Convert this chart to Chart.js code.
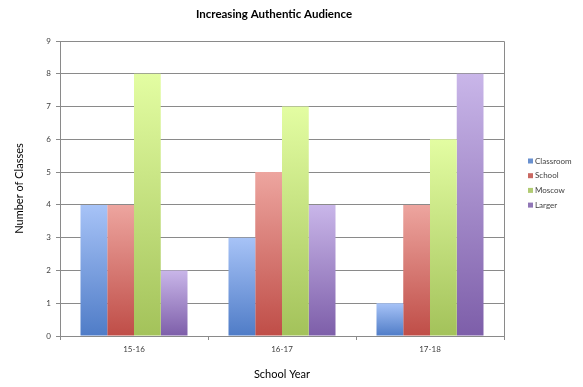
<!DOCTYPE html>
<html>
<head>
<meta charset="utf-8">
<script src="https://cdn.jsdelivr.net/npm/chart.js@4.4.1/dist/chart.umd.min.js"></script>
<style>
  html, body { margin: 0; padding: 0; background: #fff; }
  #wrap { width: 583px; height: 387px; position: relative; }
</style>
</head>
<body>
<div id="wrap"><canvas id="myChart"></canvas></div>
<script>
var chartTitle = 'Increasing Authentic Audience';
var years = ['15-16', '16-17', '17-18'];
var seriesNames = ['Classroom', 'School', 'Moscow', 'Larger'];
var classroom = [4, 3, 1];
var school = [4, 5, 4];
var moscow = [8, 7, 6];
var larger = [2, 4, 8];
var yTicks = [0, 1, 2, 3, 4, 5, 6, 7, 8, 9];

// light (top) / dark (bottom) shade for each series
var shades = [
  ['#a7c3f7', '#4f7cc7'],
  ['#eda59f', '#bf4d47'],
  ['#e3fda2', '#a3c25a'],
  ['#c9b6e9', '#7d5ea9']
];
var FONT = 'Lato, "Open Sans", sans-serif';
var GRID = '#8a8a8a';

function barFill(i) {
  return function (c) {
    var chart = c.chart;
    var sy = chart.scales.y;
    if (!sy || c.raw === undefined || !chart.chartArea) return shades[i][1];
    var top = sy.getPixelForValue(c.raw);
    var bot = sy.getPixelForValue(0);
    if (!isFinite(top) || top === bot) return shades[i][1];
    var g = chart.ctx.createLinearGradient(0, top, 0, bot);
    g.addColorStop(0, shades[i][0]);
    g.addColorStop(1, shades[i][1]);
    return g;
  };
}

var allData = [classroom, school, moscow, larger];
var datasets = seriesNames.map(function (name, i) {
  return {
    label: name,
    data: allData[i],
    backgroundColor: barFill(i),
    borderWidth: 0,
    barPercentage: 1,
    categoryPercentage: 0.723
  };
});

// plot frame, title (centred like the original) and legend on the right
var frameAndLegend = {
  id: 'frameAndLegend',
  afterDraw: function (chart) {
    var ctx = chart.ctx, a = chart.chartArea;
    ctx.save();
    ctx.strokeStyle = GRID;
    ctx.lineWidth = 1;
    ctx.beginPath();
    ctx.moveTo(a.left, a.top + 0.5);
    ctx.lineTo(a.right + 0.5, a.top + 0.5);
    ctx.lineTo(a.right + 0.5, a.bottom);
    ctx.stroke();

    ctx.fillStyle = '#000';
    ctx.font = 'bold 11.5px ' + FONT;
    ctx.textAlign = 'center';
    ctx.textBaseline = 'middle';
    ctx.fillText(chartTitle, 274, 14);

    ctx.font = '8px ' + FONT;
    ctx.textAlign = 'left';
    seriesNames.forEach(function (name, i) {
      var y = 161 + i * 14.7;
      ctx.fillStyle = shades[i][1];
      ctx.globalAlpha = 0.85;
      ctx.fillRect(528, y - 2.5, 5, 5);
      ctx.globalAlpha = 1;
      ctx.fillStyle = '#404040';
      ctx.fillText(name, 535, y);
    });
    ctx.restore();
  }
};

var ctx = document.getElementById('myChart').getContext('2d');
var myChart = new Chart(ctx, {
  type: 'bar',
  data: { labels: years, datasets: datasets },
  plugins: [frameAndLegend],
  options: {
    responsive: true,
    maintainAspectRatio: false,
    animation: false,
    layout: { padding: { left: 0, right: 79, top: 41, bottom: 0 } },
    plugins: {
      legend: { display: false },
      tooltip: { enabled: false },
      title: { display: false }
    },
    scales: {
      x: {
        offset: true,
        grid: { display: true, offset: true, drawOnChartArea: false, color: GRID, tickLength: 4 },
        border: { color: GRID },
        ticks: { color: '#404040', font: { family: FONT, size: 8 }, padding: 5 },
        title: {
          display: true, text: 'School Year', color: '#000',
          font: { family: FONT, size: 11 }, padding: { top: 0, bottom: 6 }
        },
        afterFit: function (s) { s.height = 51; }
      },
      y: {
        min: 0, max: 9,
        afterBuildTicks: function (s) { s.ticks = yTicks.map(function (v) { return { value: v }; }); },
        grid: { color: GRID, tickLength: 4 },
        border: { color: GRID },
        ticks: { color: '#404040', font: { family: FONT, size: 8 }, padding: 5 },
        title: {
          display: true, text: 'Number of Classes', color: '#000',
          font: { family: FONT, size: 11 }, padding: { top: 13, bottom: 0 }
        },
        afterFit: function (s) { s.width = 60; }
      }
    }
  }
});
</script>
</body>
</html>
